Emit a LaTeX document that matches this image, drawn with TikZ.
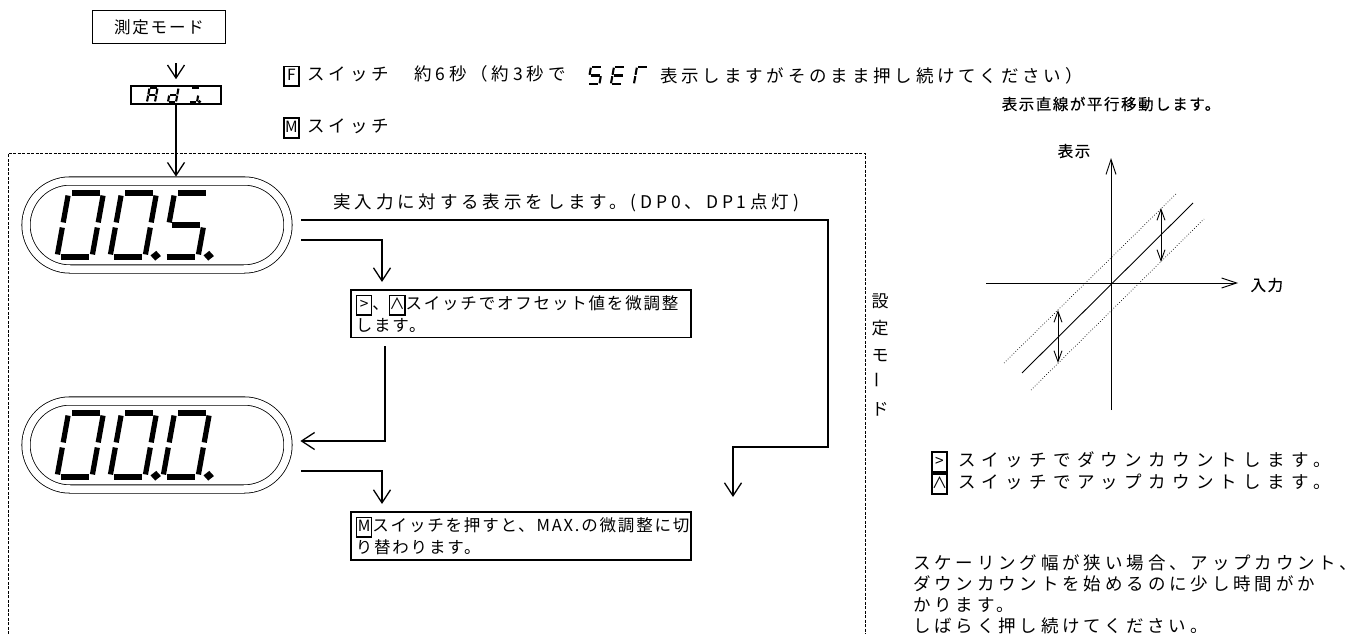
\documentclass[tikz,border=0pt]{standalone}
\usepackage{fontspec}
\setmainfont{Noto Sans CJK JP}
\newfontfamily\jpText[LetterSpace=22]{Noto Sans CJK JP}
\newfontfamily\jpBox[LetterSpace=11]{Noto Sans CJK JP}
\newfontfamily\jpNote[LetterSpace=36]{Noto Sans CJK JP}
\newfontfamily\jpSmall[LetterSpace=10,FakeBold=0.4]{Noto Sans CJK JP}
\usetikzlibrary{arrows.meta,positioning,calc}

\newcommand\bodyFont{\jpText\fontsize{17.5}{21.5}\selectfont}
\newcommand\boxFont{\jpBox\fontsize{16.5}{22}\selectfont}
\newcommand\noteFont{\jpNote\fontsize{17.5}{21.5}\selectfont}
\newcommand\smallFont{\jpSmall\fontsize{15.5}{18}\selectfont}
\newcommand\keycap[1]{{\setlength\fboxsep{0.8pt}\setlength\fboxrule{1.5pt}%
  \fbox{\rule[-4pt]{0pt}{16.5pt}\makebox[12pt]{\fontsize{15.5}{15.5}\selectfont#1}}}}

% seven segment pieces, unit cell 1 wide and 2 high
\newcommand\segA{(0.1,2)--(0.9,2)}
\newcommand\segB{(1,1.92)--(1,1.08)}
\newcommand\segC{(1,0.92)--(1,0.08)}
\newcommand\segD{(0.1,0)--(0.9,0)}
\newcommand\segE{(0,0.08)--(0,0.92)}
\newcommand\segF{(0,1.08)--(0,1.92)}
\newcommand\segG{(0.1,1)--(0.9,1)}
\newcommand\segP{(1.3,0.04) circle[radius=0.04]}
% \segDigit{stroke}{bottom left}{width}{half height}{segments}
\newcommand\segDigit[5]{%
  \begin{scope}[shift={#2},x=#3,y=#4,xslant=0.18]
    \foreach \s in {#5} {%
      \expandafter\let\expandafter\segPath\csname seg\s\endcsname
      \draw[#1] \segPath;}
  \end{scope}}

\tikzset{
  >={Straight Barb[length=13pt,width=17pt]},
  flow/.style={->,line width=1.3pt},
  modeBox/.style={draw,line width=1.6pt,minimum width=133pt,minimum height=33pt,font=\boxFont},
  adjBox/.style={draw,line width=1.6pt,minimum width=90pt,minimum height=18pt,inner sep=0pt},
  stepBox/.style={draw,line width=1.6pt,anchor=north west,text width=330pt,
                  inner xsep=5pt,inner ysep=5pt,align=left,font=\boxFont},
  dispFrame/.style={draw,line width=0.8pt,double,double distance=7.5pt,rounded corners=44pt,
                    minimum width=262pt,minimum height=88pt,inner sep=0pt},
  segBold/.style={line width=5.2pt},
  segThin/.style={line width=2.1pt},
  modeFrame/.style={line width=0.8pt,dash pattern=on 3pt off 1.5pt},
  noteText/.style={anchor=west,font=\bodyFont,inner sep=0pt},
  vertLabel/.style={font={\jpText\fontsize{17}{27}\selectfont},align=center,inner sep=0pt},
  axisLine/.style={-{Straight Barb[length=15pt,width=10pt]},line width=0.9pt},
  shiftLine/.style={line width=0.9pt},
  shiftDotted/.style={line width=0.7pt,dotted},
  dblArrow/.style={{Straight Barb[length=11pt,width=8pt]}-{Straight Barb[length=11pt,width=8pt]},line width=0.9pt},
}

\begin{document}
\begin{tikzpicture}[x=1pt,y=-1pt]
\useasboundingbox (0,0) rectangle (1361,634);

% measuring mode, then Adj.
\node[modeBox] (measure) at (159,27) {測定モード};
\node[adjBox] (adj) at (176,95) {};
\segDigit{segThin}{(147,102)}{8pt}{7pt}{A,B,C,E,F,G}
\segDigit{segThin}{(168,102)}{8pt}{7pt}{B,C,D,E,G}
\segDigit{segThin}{(189,102)}{8pt}{7pt}{A,C,D,P}
\draw[flow,shorten <=19pt,shorten >=6pt] (measure.south -| adj.north) -- (adj.north);

\node[noteText] (fKey) at (283,76) {\keycap{F}\ スイッチ　約6秒（約3秒で};
\segDigit{segThin}{([xshift=22pt,yshift=-8pt]fKey.east)}{11.5pt}{8.5pt}{A,F,G,C,D}
\segDigit{segThin}{([xshift=45pt,yshift=-8pt]fKey.east)}{11.5pt}{8.5pt}{A,F,G,E,D}
\segDigit{segThin}{([xshift=68pt,yshift=-8pt]fKey.east)}{11.5pt}{8.5pt}{A,E,F}
\node[noteText,right=94pt of fKey] (fKeyRest) {表示しますがそのまま押し続けてください）};
\node[noteText] (mKey) at (283,128) {\keycap{M}\ スイッチ};

% setting mode frame
\draw[modeFrame] (8,634) -- (8,153) -- (865,153) -- (865,634);
\node[vertLabel] (modeLabel) at (880,355) {設\\定\\モ\\\rotatebox{90}{ー}\\ド};

% displays
\node[dispFrame] (disp1) at (157,225) {};
\segDigit{segBold}{(57,257)}{35pt}{32pt}{A,B,C,D,E,F}
\segDigit{segBold}{(110,257)}{35pt}{32pt}{A,B,C,D,E,F,P}
\segDigit{segBold}{(163,257)}{35pt}{32pt}{A,F,G,C,D,P}
\node[dispFrame] (disp2) at (157,445) {};
\segDigit{segBold}{(57,477)}{35pt}{32pt}{A,B,C,D,E,F}
\segDigit{segBold}{(110,477)}{35pt}{32pt}{A,B,C,D,E,F,P}
\segDigit{segBold}{(163,477)}{35pt}{32pt}{A,B,C,D,E,F,P}
\draw[flow,shorten >=4pt] (adj.south) -- (adj.south |- disp1.north);

\node[anchor=south west,font=\bodyFont] (realInput) at (330,215) {実入力に対する表示をします。(DP0、DP1点灯)};

\node[stepBox] (offsetBox) at (350,289)
  {\keycap{>}、\keycap{∧}スイッチでオフセット値を微調整\\します。};
\node[stepBox] (maxBox) at (350,511)
  {\keycap{M}スイッチを押すと、MAX.の微調整に切\\り替わります。};

\coordinate (bendR) at (828,447);
\coordinate (maxIn) at (733,497);
\draw[flow] ([xshift=13pt,yshift=5pt]disp1.east) -| (bendR) -| (maxIn);
\draw[flow] ([xshift=13pt,yshift=-15pt]disp1.east) -| ([xshift=32pt,yshift=7pt]offsetBox.north west);
\draw[flow] ([xshift=35pt,yshift=-8pt]offsetBox.south west) |- ([xshift=12pt,yshift=4pt]disp2.east);
\draw[flow] ([xshift=13pt,yshift=-26pt]disp2.east) -| ([xshift=32pt,yshift=7pt]maxBox.north west);

% shifted line graph
\node[font=\smallFont] (lineTitle) at (1111,104) {表示直線が平行移動します。};
\coordinate (origin) at (1111,283);
\draw[axisLine] (1111,410) -- (1111,158);
\draw[axisLine] (986,283) -- (1238,283);
\node[font=\smallFont] (yLabel) at (1074,151) {表示};
\node[font=\smallFont,anchor=west] (xLabel) at (1247,285) {入力};
\draw[shiftLine] (1022,373) -- (1193,203);
\draw[shiftDotted] (1004,363) -- (1177,193);
\draw[shiftDotted] (1031,390) -- (1204,219);
\draw[dblArrow] (1161,208) -- (1161,262);
\draw[dblArrow] (1058,310) -- (1058,363);

\node[noteText,font=\noteFont] (downNote) at (931,462) {\keycap{>}\ スイッチでダウンカウントします。};
\node[noteText,font=\noteFont] (upNote) at (931,484) {\keycap{∧}\ スイッチでアップカウントします。};
\node[font={\jpText\fontsize{17.5}{21.2}\selectfont},anchor=north west,align=left,inner sep=0pt] (scaleNote) at (913,554)
  {スケーリング幅が狭い場合、アップカウント、\\ダウンカウントを始めるのに少し時間がか\\かります。\\しばらく押し続けてください。};

\end{tikzpicture}
\end{document}
